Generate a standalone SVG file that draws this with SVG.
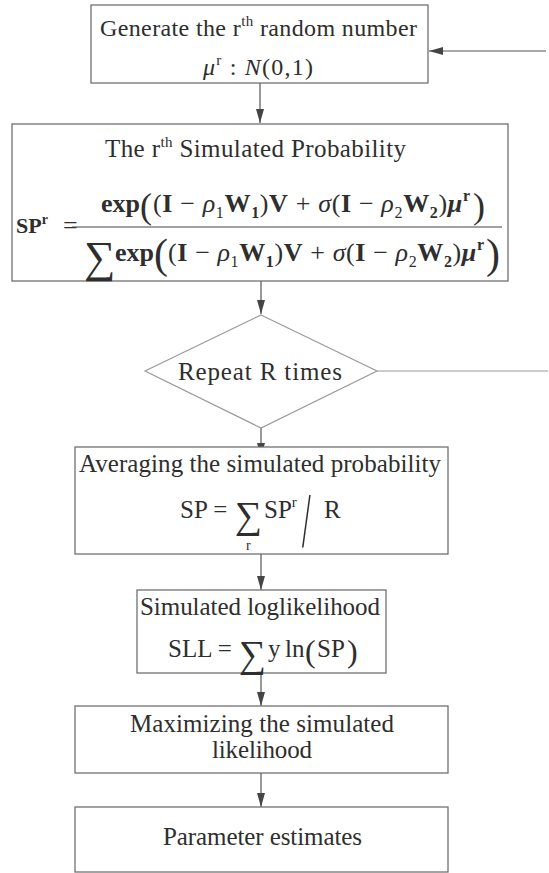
<svg xmlns="http://www.w3.org/2000/svg" width="549" height="873" viewBox="0 0 549 873" font-size="24">
<defs>
<style>
text{font-family:"Liberation Serif","Times New Roman",serif;fill:#2e2e2e}
.box{fill:#fff;stroke:#707070;stroke-width:1.3}
.dia{fill:#fff;stroke:#9a9a9a;stroke-width:1.2}
.ln{stroke:#555;stroke-width:1.2;fill:none}
.fb{font-weight:bold;font-size:26px}
.m{font-size:26px}
.b{font-weight:bold}
.i{font-style:italic}
.bi{font-weight:bold;font-style:italic}
.s{font-size:16px}
.sb{font-size:16px;font-weight:bold}
.sup{font-size:15px}
</style>
<marker id="ah" markerWidth="15" markerHeight="10" refX="14" refY="5" orient="auto" markerUnits="userSpaceOnUse">
<path d="M0,1 L14,5 L0,9 Z" fill="#454545"/>
</marker>
</defs>
<rect width="549" height="873" fill="#fff"/>

<g id="connectors">
<line class="ln" x1="260" y1="83" x2="260" y2="123" marker-end="url(#ah)"/>
<line class="ln" x1="261" y1="281" x2="261" y2="314" marker-end="url(#ah)"/>
<line class="ln" x1="261" y1="428" x2="261" y2="457" marker-end="url(#ah)"/>
<line class="ln" x1="261" y1="554" x2="261" y2="590" marker-end="url(#ah)"/>
<line class="ln" x1="261" y1="673" x2="261" y2="706" marker-end="url(#ah)"/>
<line class="ln" x1="261" y1="773" x2="261" y2="807" marker-end="url(#ah)"/>
<line x1="377" y1="371" x2="548" y2="371" stroke="#9a9a9a" stroke-width="1.2"/>
<line class="ln" x1="546" y1="51" x2="429" y2="51" marker-end="url(#ah)"/>
</g>

<g id="generate">
<rect class="box" x="91" y="5" width="337" height="78"/>
<text x="100" y="36" font-size="24" textLength="317" lengthAdjust="spacing">Generate the r<tspan class="sup" dy="-10">th</tspan><tspan dy="10"> random number</tspan></text>
<text x="203" y="75" font-size="24" textLength="110" lengthAdjust="spacing"><tspan class="i">μ</tspan><tspan class="sup" dy="-10">r</tspan><tspan dy="10"> : </tspan><tspan class="i">N</tspan>(0,1)</text>
</g>

<g id="simulated-probability">
<rect class="box" x="12" y="124" width="496" height="157"/>
<text x="105" y="157" font-size="25" textLength="301" lengthAdjust="spacing">The r<tspan class="sup" dy="-10">th</tspan><tspan dy="10"> Simulated Probability</tspan></text>
<text x="16" y="233" font-weight="bold" font-size="22">SP<tspan font-size="14" dy="-9">r</tspan></text>
<text x="63" y="234" font-size="26">=</text>
<line x1="72" y1="227" x2="502" y2="227" stroke="#444" stroke-width="1.2"/>
<text x="101" y="212" class="fb">exp</text>
<text x="140" y="218" font-size="36">(</text>
<text x="153" y="212" class="m" textLength="317" lengthAdjust="spacing">(<tspan class="b">I</tspan> − <tspan class="i">ρ</tspan><tspan class="s" dy="6">1</tspan><tspan class="b" dy="-6">W</tspan><tspan class="sb" dy="6">1</tspan><tspan dy="-6">)</tspan><tspan class="b">V</tspan> + <tspan class="i">σ</tspan>(<tspan class="b">I</tspan> − <tspan class="i">ρ</tspan><tspan class="s" dy="6">2</tspan><tspan class="b" dy="-6">W</tspan><tspan class="sb" dy="6">2</tspan><tspan dy="-6">)</tspan><tspan class="bi">μ</tspan><tspan class="sb" dy="-11">r</tspan></text>
<text x="473" y="218" font-size="36">)</text>
<text x="84" y="272" font-size="44">∑</text>
<text x="115" y="261" class="fb">exp</text>
<text x="154" y="268" font-size="42">(</text>
<text x="168" y="261" class="m" textLength="316" lengthAdjust="spacing">(<tspan class="b">I</tspan> − <tspan class="i">ρ</tspan><tspan class="s" dy="6">1</tspan><tspan class="b" dy="-6">W</tspan><tspan class="sb" dy="6">1</tspan><tspan dy="-6">)</tspan><tspan class="b">V</tspan> + <tspan class="i">σ</tspan>(<tspan class="b">I</tspan> − <tspan class="i">ρ</tspan><tspan class="s" dy="6">2</tspan><tspan class="b" dy="-6">W</tspan><tspan class="sb" dy="6">2</tspan><tspan dy="-6">)</tspan><tspan class="bi">μ</tspan><tspan class="sb" dy="-11">r</tspan></text>
<text x="486" y="268" font-size="42">)</text>
</g>

<g id="repeat">
<polygon class="dia" points="261,315 377,371 261,428 145,371"/>
<text x="178" y="380" font-size="25" textLength="164" lengthAdjust="spacing">Repeat R times</text>
</g>

<g id="averaging">
<rect class="box" x="75" y="447" width="373" height="107"/>
<text x="79" y="472" font-size="25" textLength="362" lengthAdjust="spacing">Averaging the simulated probability</text>
<text x="180" y="518" font-size="25">SP =</text>
<text x="235" y="528" font-size="38">∑</text>
<text x="246" y="550" font-size="14">r</text>
<text x="264" y="518" font-size="25">SP<tspan class="sup" dy="-11">r</tspan></text>
<text transform="translate(302,546) scale(0.4,1)" font-size="78">/</text>
<text x="324" y="518" font-size="25">R</text>
</g>

<g id="loglikelihood">
<rect class="box" x="137" y="590" width="249" height="83"/>
<text x="140" y="615" font-size="25" textLength="240" lengthAdjust="spacing">Simulated loglikelihood</text>
<text x="168" y="657" font-size="25">SLL =</text>
<text x="239" y="667" font-size="38">∑</text>
<text x="268" y="657" font-size="25">y</text>
<text x="285" y="657" font-size="25">ln</text>
<text x="305" y="662" font-size="32">(</text>
<text x="317" y="657" font-size="25">SP</text>
<text x="347" y="662" font-size="32">)</text>
</g>

<g id="maximizing">
<rect class="box" x="75" y="706" width="373" height="67"/>
<text x="130" y="732" font-size="25" textLength="264" lengthAdjust="spacing">Maximizing the simulated</text>
<text x="212" y="758" font-size="25" textLength="100" lengthAdjust="spacing">likelihood</text>
</g>

<g id="estimates">
<rect class="box" x="75" y="807" width="373" height="65"/>
<text x="163" y="845" font-size="25" textLength="199" lengthAdjust="spacing">Parameter estimates</text>
</g>
</svg>
